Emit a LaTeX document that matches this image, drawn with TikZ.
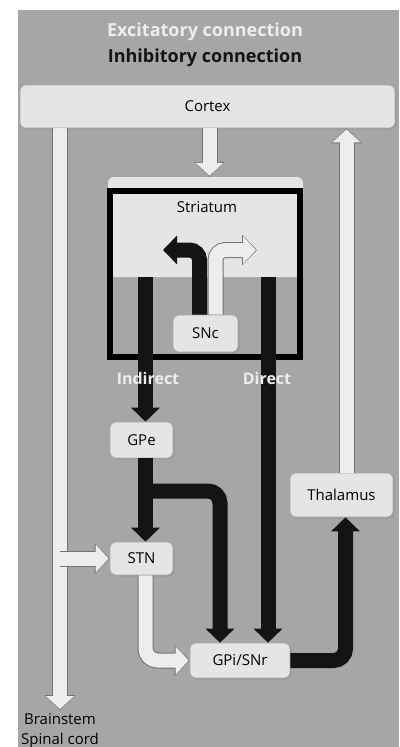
\documentclass[tikz,border=0pt]{standalone}
\usepackage{fontspec}
\setmainfont{Open Sans}
\usetikzlibrary{arrows.meta,shadows}
\definecolor{bggray}{gray}{0.65}
\definecolor{boxfill}{gray}{0.9}
\definecolor{excfill}{gray}{0.93}
\definecolor{excline}{gray}{0.45}
\definecolor{inhfill}{gray}{0.08}
\tikzset{
  area/.style={fill=boxfill, draw=gray!70, line width=0.6pt, rounded corners=6pt,
    drop shadow={opacity=0.35, shadow xshift=1.5pt, shadow yshift=-1.5pt}},
  exc/.style={draw=excfill, line width=14pt, -{Triangle[width=27pt,length=13pt]}, shorten >=1pt,
    preaction={draw=excline, line width=16pt, -{Triangle[width=30pt,length=15pt]}, shorten >=0pt}},
  inh/.style={draw=inhfill, line width=15pt, -{Triangle[width=28pt,length=14pt]}},
  keytext/.style={font=\fontsize{18}{21}\selectfont\bfseries},
  pathtext/.style={font=\fontsize{16}{19}\selectfont\bfseries},
}
\begin{document}
\begin{tikzpicture}[x=1pt, y=-1pt, font=\fontsize{15}{18}\selectfont]
  \useasboundingbox (0,0) rectangle (399,747);
  % grey panel behind everything
  \fill[bggray] (18,10) rectangle (399,747);
  % key
  \node[keytext, text=excfill] (keyexc) at (205,32) {Excitatory connection};
  \node[keytext, text=inhfill] (keyinh) at (205,58) {Inhibitory connection};
  % boxes
  \node[area, minimum width=375pt, minimum height=43pt] (cortex) at (207.5,106.5) {Cortex};
  \node[fill=boxfill, rounded corners=6pt, minimum width=195pt, minimum height=100pt] (str) at (205.5,227) {};
  \node[draw=black, line width=6pt, minimum width=190pt, minimum height=166pt] (frame) at (205,274) {};
  \node (strlabel) at (207,207) {Striatum};
  \node[area, minimum width=65pt, minimum height=37pt] (snc) at (205.5,333.5) {SNc};
  \node[area, minimum width=63pt, minimum height=36pt] (gpe) at (141.5,440) {GPe};
  \node[area, minimum width=63pt, minimum height=33pt] (stn) at (141.5,558.5) {STN};
  \node[area, minimum width=103pt, minimum height=44pt] (thal) at (341.5,495) {Thalamus};
  \node[area, minimum width=100pt, minimum height=35pt] (gpi) at (240,660.5) {GPi/SNr};
  \node[align=center, font=\fontsize{15}{20}\selectfont] (brain) at (60,731) {Brainstem\\Spinal cord};
  % excitatory paths
  \draw[exc] (cortex.south -| brain.north) -- (brain.north);
  \draw[exc] (brain.north |- stn.west) -- (stn.west);
  \draw[exc] ([xshift=4pt]str.north |- cortex.south) -- ([xshift=4pt]str.north);
  \draw[exc] ([xshift=5pt]thal.north) -- ([xshift=5pt]thal.north |- cortex.south);
  \draw[exc, rounded corners=12pt] ([xshift=4pt]stn.south) |- (gpi.west);
  % dopamine arrows out of SNc
  \coordinate (dinh) at (163,250);
  \coordinate (dexc) at (257,250);
  \draw[inh, rounded corners=10pt] ([xshift=-6pt]snc.north) |- (dinh);
  \draw[exc, rounded corners=10pt] ([xshift=10pt]snc.north) |- (dexc);
  % inhibitory paths
  \coordinate (fork) at (145.5,491);
  \draw[inh] ([xshift=4pt]gpe.north |- str.south) -- ([xshift=4pt]gpe.north);
  \draw[inh] ([xshift=28pt]gpi.north |- str.south) -- ([xshift=28pt]gpi.north);
  \draw[inh] ([xshift=4pt]gpe.south) -- ([xshift=4pt]stn.north);
  \draw[inh, rounded corners=12pt] (fork) -| ([xshift=-20pt]gpi.north);
  \draw[inh, rounded corners=12pt] (gpi.east) -| ([xshift=4pt]thal.south);
  % pathway names
  \node[pathtext, text=excfill] (indlabel) at (148,378) {Indirect};
  \node[pathtext, text=excfill] (dirlabel) at (267,378) {Direct};
\end{tikzpicture}
\end{document}
